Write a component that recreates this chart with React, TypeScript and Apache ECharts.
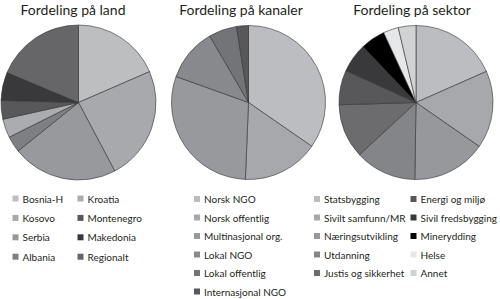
import React, { useEffect, useRef } from "react";
import * as echarts from "echarts";

const titles = ["Fordeling på land", "Fordeling på kanaler", "Fordeling på sektor"];

const landNames = ["Bosnia-H", "Kosovo", "Serbia", "Albania", "Kroatia", "Montenegro", "Makedonia", "Regionalt"];
const landValues = [18.5, 23.8, 22.0, 3.4, 3.9, 3.9, 5.9, 18.7];
const landColors = ["#bdbec0", "#a8a9ac", "#98999c", "#7e7f82", "#abacaf", "#58585b", "#39393b", "#666668"];

const kanalNames = ["Norsk NGO", "Norsk offentlig", "Multinasjonal org.", "Lokal NGO", "Lokal offentlig", "Internasjonal NGO"];
const kanalValues = [34.6, 16.0, 29.8, 11.1, 5.9, 2.5];
const kanalColors = ["#bcbdc0", "#a7a8ab", "#98999c", "#88898c", "#737477", "#58585b"];

const sektorNames = [
  "Statsbygging", "Sivilt samfunn/MR", "Næringsutvikling", "Utdanning", "Justis og sikkerhet",
  "Energi og miljø", "Sivil fredsbygging", "Minerydding", "Helse", "Annet",
];
const sektorValues = [18.4, 16.3, 15.6, 12.9, 11.4, 7.3, 6.1, 5.2, 3.2, 3.7];
const sektorColors = ["#bcbdc0", "#a7a8ab", "#97989b", "#848588", "#6c6c6f", "#58585b", "#39393b", "#000000", "#e6e7e8", "#d1d2d4"];

const FONT = "Lato";
const TEXT = "#231f20";

function makeSeries(names: string[], values: number[], colors: string[], center: number[], r: number) {
  return {
    type: "pie",
    center,
    radius: r,
    startAngle: 90,
    clockwise: true,
    silent: true,
    label: { show: false },
    labelLine: { show: false },
    itemStyle: { borderColor: "#333", borderWidth: 0.6 },
    data: names.map((n, i) => ({ name: n, value: values[i], itemStyle: { color: colors[i] } })),
  };
}

function makeLegend(data: string[], left: number, top: number, gap: number) {
  return {
    orient: "vertical",
    left,
    top,
    padding: 0,
    itemWidth: 6,
    itemHeight: 6,
    itemGap: gap,
    icon: "rect",
    selectedMode: false,
    itemStyle: { borderWidth: 0, borderColor: "transparent" },
    data,
    textStyle: { fontFamily: FONT, fontSize: 10, color: TEXT, lineHeight: 12, padding: [0, 0, 0, -1] },
  };
}

export default function App() {
  const ref = useRef<HTMLDivElement>(null);
  useEffect(() => {
    if (!ref.current) return;
    const chart = echarts.init(ref.current, null, { renderer: "svg" });
    const titleCenters = [73, 241, 412];
    chart.setOption({
      animation: false,
      title: titles.map((t, i) => ({
        text: t,
        left: titleCenters[i],
        top: 2,
        padding: 0,
        textAlign: "center",
        textStyle: { fontFamily: FONT, fontSize: 14, fontWeight: "normal", color: TEXT },
      })),
      legend: [
        makeLegend(landNames.slice(0, 4), 12.5, 192.5, 7.4),
        makeLegend(landNames.slice(4), 77.5, 192.5, 7.4),
        makeLegend(kanalNames, 194, 193, 6.5),
        makeLegend(sektorNames.slice(0, 5), 314, 193, 6.5),
        makeLegend(sektorNames.slice(5), 410.5, 193, 6.5),
      ],
      series: [
        makeSeries(landNames, landValues, landColors, [78.5, 102.5], 77.5),
        makeSeries(kanalNames, kanalValues, kanalColors, [248.5, 102.5], 77),
        makeSeries(sektorNames, sektorValues, sektorColors, [416, 102.5], 77),
      ],
    });
    return () => chart.dispose();
  }, []);
  return (
    <div
      ref={ref}
      style={{ position: "fixed", left: 0, top: 0, width: 500, height: 299, background: "#fff" }}
    />
  );
}
